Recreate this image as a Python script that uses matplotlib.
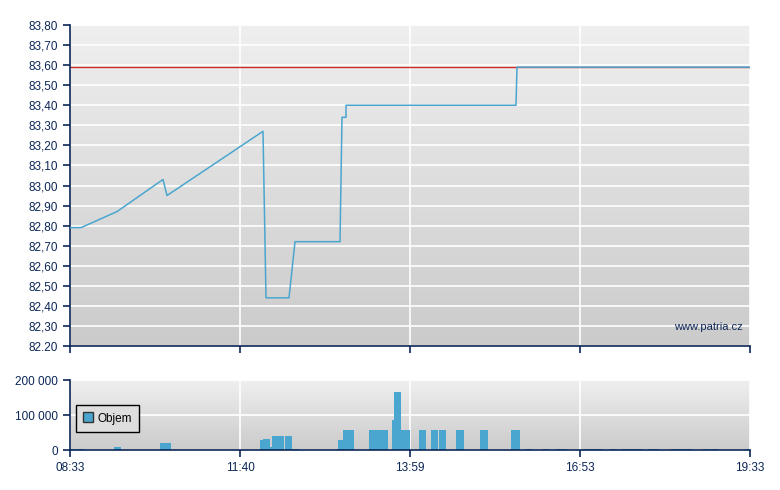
import numpy as np
import matplotlib
matplotlib.use("Agg")
import matplotlib.pyplot as plt
from matplotlib.ticker import FuncFormatter
from matplotlib.lines import Line2D

plt.rcParams['font.family'] = ['Liberation Sans', 'DejaVu Sans']

# time axis: chart slot index, ticks shown at these slots
tick_pos = [0, 170, 340, 510, 680]
tick_labels = ["08:33", "11:40", "13:59", "16:53", "19:33"]

# price series
price_t = [0, 11, 47, 93, 97, 193, 196, 219, 225, 270, 272, 276, 276, 446, 447, 680]
price_v = [82.79, 82.79, 82.87, 83.03, 82.95, 83.27, 82.44, 82.44, 82.72, 82.72,
           83.34, 83.34, 83.40, 83.40, 83.59, 83.59]
prev_close = 83.59

# volume series (start slot, duration, volume)
vol_t = [1, 6, 44, 90, 190, 193, 200, 202, 215, 222, 267, 268, 273, 299, 322, 324,
         331, 349, 361, 369, 386, 410, 441, 455, 472, 486, 512, 540, 551, 578, 601,
         633, 641, 675]
vol_w = [4, 8, 7, 11, 3, 7, 2, 12, 7, 7, 1, 5, 11, 19, 2, 7,
         9, 7, 7, 7, 8, 8, 9, 7, 7, 11, 21, 7, 22, 11, 21,
         7, 7, 5]
vol_v = [2000, 2500, 10000, 19000, 29000, 32000, 9000, 40000, 40000, 4000, 2000, 29000,
         57000, 57000, 86000, 166000, 57000, 57000, 57000, 57000, 57000, 57000, 57000,
         2500, 2500, 2500, 2500, 2500, 2500, 2500, 2500, 2500, 2500, 2500]

navy = "#0b2657"
blue = "#4aa6cf"

fig = plt.figure(figsize=(7.8, 4.9), dpi=100)
ax1 = fig.add_axes([70/780, 1-346/490, 680/780, 321/490])
ax2 = fig.add_axes([70/780, 1-450/490, 680/780, 70/490])


def style(ax, top, bottom):
    grad = np.linspace(0, 1, 256).reshape(-1, 1)
    cmap = matplotlib.colors.LinearSegmentedColormap.from_list("g", [top, bottom])
    ax.imshow(grad, aspect="auto", cmap=cmap, extent=[0, 1, 0, 1],
              transform=ax.transAxes, zorder=-2)
    for s in ["top", "right"]:
        ax.spines[s].set_visible(False)
    for s in ["left", "bottom"]:
        ax.spines[s].set_color(navy)
        ax.spines[s].set_linewidth(1.2)
    ax.tick_params(colors=navy, labelcolor=navy, labelsize=8.5, length=5, width=1.2,
                   direction="out")
    ax.grid(True, color="white", linewidth=1.2)
    ax.set_axisbelow(True)
    ax.set_xlim(tick_pos[0], tick_pos[-1])
    ax.set_xticks(tick_pos)


# price panel
style(ax1, "#efefef", "#cbcbcb")
ax1.plot([tick_pos[0], tick_pos[-1]], [prev_close, prev_close], color="#cc2a2a", lw=1, zorder=2)
ax1.plot(price_t, price_v, color=blue, lw=1.1, zorder=3)
ax1.set_ylim(82.2, 83.8)
yt = np.round(np.arange(82.2, 83.81, 0.1), 2)
ax1.set_yticks(yt)
ax1.set_yticklabels(["82.20"] + [f"{v:.2f}".replace(".", ",") for v in yt[1:]])
ax1.set_xticklabels([])
ax1.text(0.99, 0.06, "www.patria.cz", transform=ax1.transAxes, ha="right", va="center",
         color=navy, fontsize=8)

# volume panel
style(ax2, "#efefef", "#cbcbcb")
ax2.bar(vol_t, vol_v, width=vol_w, align="edge", color=blue, zorder=2)
ax2.set_ylim(0, 200000)
ax2.set_yticks([0, 100000, 200000])
ax2.yaxis.set_major_formatter(FuncFormatter(lambda v, p: f"{int(v):,}".replace(",", " ")))
ax2.set_xticklabels(tick_labels)
h = Line2D([], [], marker="s", linestyle="none", markersize=7, markerfacecolor=blue,
           markeredgecolor="#333333")
leg = ax2.legend([h], ["Objem"], loc="center left", bbox_to_anchor=(0.0, 0.45),
                 fontsize=8.5, frameon=True, fancybox=False, handlelength=0.8,
                 handletextpad=0.4, borderpad=0.6)
leg.get_frame().set_edgecolor("black")
leg.get_frame().set_facecolor("#dedede")
leg.get_frame().set_alpha(1)

fig.savefig("out.png", dpi=100)
